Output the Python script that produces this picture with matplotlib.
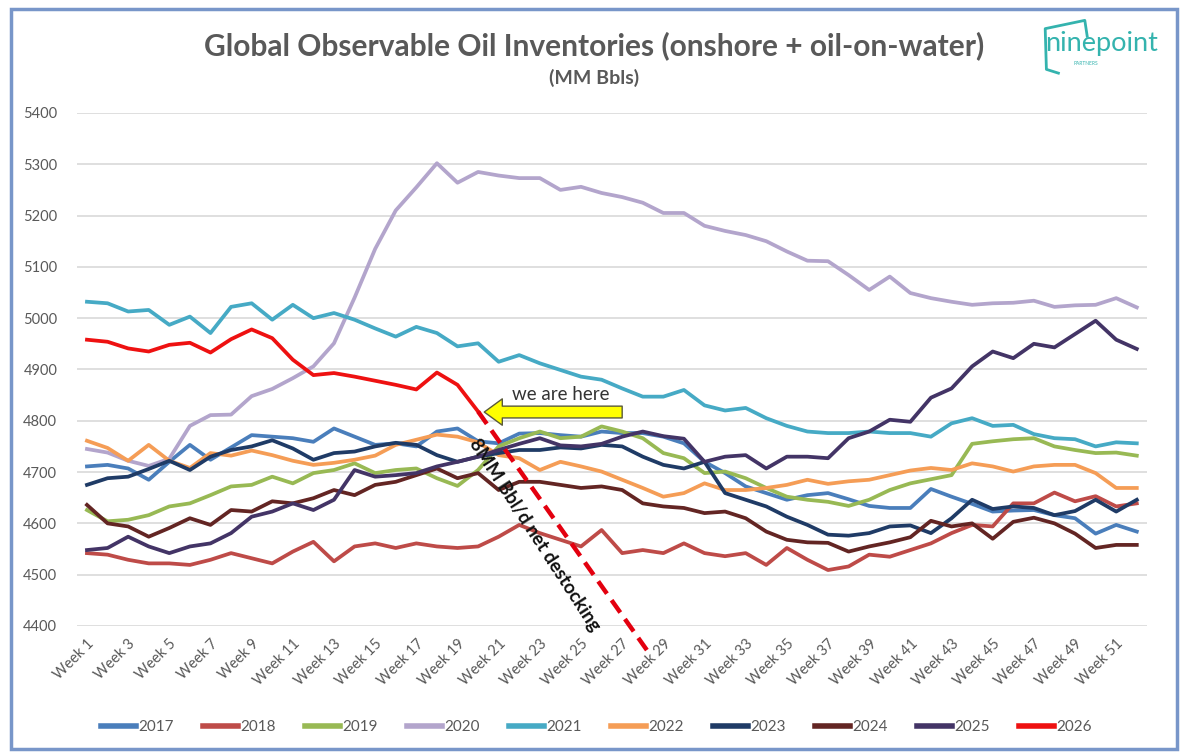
import matplotlib
matplotlib.use("Agg")
import matplotlib.pyplot as plt
from matplotlib.lines import Line2D
from matplotlib.patches import Rectangle

WEEKS = list(range(1, 53))
TICK_WEEKS = list(range(1, 53, 2))
TICK_LABELS = [f"Week {w}" for w in TICK_WEEKS]
Y_TICKS = list(range(4400, 5401, 100))

INV_2017 = [4711, 4714, 4707, 4685, 4720, 4753, 4724, 4748, 4772, 4769,
            4766, 4759, 4785, 4769, 4753, 4756, 4750, 4779, 4785, 4760,
            4756, 4775, 4776, 4772, 4769, 4779, 4776, 4776, 4769, 4756,
            4720, 4698, 4672, 4659, 4646, 4655, 4659, 4647, 4634, 4630,
            4630, 4667, 4652, 4638, 4623, 4625, 4626, 4616, 4610, 4580,
            4597, 4584]
INV_2018 = [4542, 4539, 4529, 4522, 4522, 4519, 4529, 4542, 4532, 4522,
            4545, 4564, 4526, 4555, 4561, 4552, 4561, 4555, 4552, 4555,
            4574, 4597, 4581, 4568, 4555, 4587, 4542, 4548, 4542, 4561,
            4542, 4536, 4542, 4519, 4552, 4529, 4509, 4516, 4539, 4535,
            4548, 4561, 4581, 4597, 4594, 4639, 4639, 4660, 4643, 4653,
            4633, 4639]
INV_2019 = [4626, 4604, 4607, 4616, 4633, 4639, 4655, 4672, 4675, 4691,
            4678, 4698, 4704, 4717, 4698, 4704, 4707, 4688, 4673, 4704,
            4750, 4766, 4779, 4766, 4769, 4789, 4779, 4766, 4737, 4727,
            4698, 4701, 4688, 4669, 4652, 4646, 4642, 4634, 4646, 4665,
            4678, 4686, 4694, 4755, 4760, 4764, 4766, 4750, 4743, 4737,
            4738, 4732]
INV_2020 = [4745, 4738, 4722, 4712, 4726, 4790, 4811, 4812, 4848, 4862,
            4883, 4906, 4951, 5040, 5135, 5210, 5255, 5302, 5264, 5285,
            5278, 5273, 5273, 5250, 5256, 5244, 5236, 5225, 5205, 5205,
            5180, 5170, 5162, 5150, 5130, 5112, 5111, 5084, 5055, 5081,
            5049, 5039, 5032, 5026, 5029, 5030, 5034, 5022, 5025, 5026,
            5039, 5021]
INV_2021 = [5032, 5029, 5013, 5016, 4987, 5003, 4971, 5022, 5029, 4997,
            5026, 5000, 5010, 4997, 4980, 4964, 4983, 4971, 4945, 4951,
            4915, 4928, 4912, 4899, 4886, 4880, 4863, 4847, 4847, 4860,
            4830, 4820, 4825, 4805, 4790, 4779, 4776, 4776, 4779, 4776,
            4776, 4769, 4795, 4805, 4790, 4792, 4774, 4766, 4764, 4750,
            4758, 4756]
INV_2022 = [4761, 4747, 4722, 4753, 4722, 4708, 4737, 4732, 4742, 4733,
            4722, 4714, 4718, 4724, 4732, 4753, 4763, 4773, 4769, 4758,
            4733, 4727, 4704, 4720, 4711, 4701, 4685, 4669, 4652, 4659,
            4678, 4665, 4665, 4669, 4675, 4685, 4677, 4682, 4685, 4694,
            4703, 4708, 4704, 4717, 4711, 4701, 4711, 4714, 4714, 4698,
            4669, 4669]
INV_2023 = [4675, 4688, 4691, 4706, 4722, 4704, 4730, 4743, 4750, 4762,
            4746, 4724, 4737, 4740, 4750, 4757, 4753, 4733, 4720, 4730,
            4737, 4743, 4743, 4748, 4746, 4753, 4750, 4730, 4714, 4707,
            4720, 4659, 4646, 4633, 4613, 4597, 4578, 4576, 4581, 4594,
            4596, 4581, 4610, 4646, 4628, 4633, 4630, 4616, 4624, 4646,
            4623, 4646]
INV_2024 = [4636, 4600, 4594, 4574, 4591, 4610, 4597, 4626, 4623, 4643,
            4639, 4649, 4665, 4655, 4675, 4681, 4694, 4707, 4688, 4698,
            4665, 4681, 4681, 4675, 4669, 4672, 4665, 4639, 4633, 4630,
            4620, 4623, 4610, 4584, 4568, 4563, 4562, 4545, 4555, 4563,
            4573, 4605, 4594, 4600, 4570, 4603, 4611, 4600, 4580, 4552,
            4558, 4558]
INV_2025 = [4548, 4552, 4574, 4555, 4542, 4555, 4561, 4581, 4613, 4623,
            4639, 4626, 4646, 4704, 4691, 4694, 4698, 4711, 4720, 4730,
            4743, 4755, 4766, 4752, 4750, 4755, 4769, 4779, 4770, 4765,
            4720, 4730, 4733, 4707, 4730, 4730, 4727, 4766, 4779, 4802,
            4798, 4845, 4863, 4906, 4935, 4922, 4950, 4943, 4969, 4995,
            4958, 4940]
INV_2026 = [4958, 4954, 4941, 4935, 4948, 4952, 4933, 4959, 4978, 4961,
            4919, 4889, 4893, 4886, 4878, 4870, 4861, 4894, 4870, 4818]

YEARS = ["2017", "2018", "2019", "2020", "2021",
         "2022", "2023", "2024", "2025", "2026"]
SERIES = [INV_2017, INV_2018, INV_2019, INV_2020, INV_2021,
          INV_2022, INV_2023, INV_2024, INV_2025, INV_2026]
COLORS = ["#4A7EBB", "#BE4B48", "#98B954", "#B3A5CC", "#46AAC5",
          "#F59D56", "#1F3B66", "#632523", "#433466", "#EE1111"]

# projected 8MM bbl/d draw, drawn by hand on the original chart
DESTOCK_WEEKS = [20, 28.2]
DESTOCK_VALUES = [4818, 4353]
ARROW_TIP = (20.3, 4817)
ARROW_TAIL = (27.0, 4817)

FONT = "Lato"
GREY = "#595959"


def draw_frame(fig):
    fig.patches.append(Rectangle((0.009, 0.006), 0.972, 0.982, transform=fig.transFigure,
                                 fill=False, edgecolor="#7896C9", linewidth=2.5))
    # rough ninepoint logo
    fig.text(0.918, 0.942, "ninepoint", color="#34B3AE", fontsize=19.5,
             family=FONT, ha="center", va="center")
    fig.text(0.905, 0.916, "PARTNERS", color="#34B3AE", fontsize=3.5,
             family=FONT, ha="center", va="center")
    xs = [0.882, 0.872, 0.871, 0.904, 0.906]
    ys = [0.903, 0.908, 0.962, 0.973, 0.952]
    fig.lines.append(Line2D(xs, ys, transform=fig.transFigure, color="#34B3AE", linewidth=2))


def plot_inventories(output_path):
    fig = plt.figure(figsize=(12, 7.54), dpi=100)
    ax = fig.add_axes([0.0639, 0.1698, 0.892, 0.6804])

    for year, values, color in zip(YEARS, SERIES, COLORS):
        ax.plot(WEEKS[:len(values)], values, color=color, linewidth=2.7,
                label=year, solid_joinstyle="round")

    ax.plot(DESTOCK_WEEKS, DESTOCK_VALUES, color="#E3000F", linewidth=3.2,
            linestyle=(0, (3.4, 1.8)), clip_on=False, zorder=5)
    ax.text(22.75, 4578, "8MM Bbl/d net destocking", rotation=-57, fontsize=13.5,
            fontweight="bold", family=FONT, color="#111111",
            ha="center", va="center", rotation_mode="anchor", zorder=6)

    ax.annotate("", xy=ARROW_TIP, xytext=ARROW_TAIL,
                arrowprops=dict(arrowstyle="simple,head_length=1.3,head_width=1.9,tail_width=0.85",
                                fc="#FFFF00", ec="#5a5a3a", lw=1, shrinkA=0, shrinkB=0),
                zorder=6)
    ax.text(24.0, 4851, "we are here", fontsize=13.5, family=FONT, color="#333333",
            ha="center", va="center", zorder=6)

    ax.set_xlim(0.5, 52.5)
    ax.set_ylim(4400, 5400)
    ax.set_yticks(Y_TICKS)
    ax.set_xticks(TICK_WEEKS)
    ax.set_xticklabels(TICK_LABELS, rotation=45, ha="right", rotation_mode="anchor")
    ax.grid(axis="y", color="#D9D9D9", linewidth=1.2)
    ax.set_axisbelow(True)
    for spine in ax.spines.values():
        spine.set_visible(False)
    ax.tick_params(axis="both", length=0, colors=GREY, labelsize=10.5)
    ax.tick_params(axis="y", pad=14)
    ax.tick_params(axis="x", pad=8)
    for label in ax.get_xticklabels() + ax.get_yticklabels():
        label.set_family(FONT)

    fig.text(0.495, 0.940, "Global Observable Oil Inventories (onshore + oil-on-water)",
             fontsize=21.5, fontweight="bold", color=GREY, family=FONT,
             ha="center", va="center")
    fig.text(0.495, 0.896, "(MM Bbls)", fontsize=14, fontweight="bold", color=GREY,
             family=FONT, ha="center", va="center")

    leg = ax.legend(loc="center", bbox_to_anchor=(0.497, 0.036),
                    bbox_transform=fig.transFigure, ncol=10, frameon=False,
                    handlelength=2.3, handletextpad=0.15, columnspacing=1.9,
                    prop={"family": FONT, "size": 11})
    for line in leg.get_lines():
        line.set_linewidth(4)
    for text in leg.get_texts():
        text.set_color(GREY)

    draw_frame(fig)
    fig.savefig(output_path, dpi=100)
    plt.close(fig)


def main():
    plot_inventories("out.png")


if __name__ == "__main__":
    main()
